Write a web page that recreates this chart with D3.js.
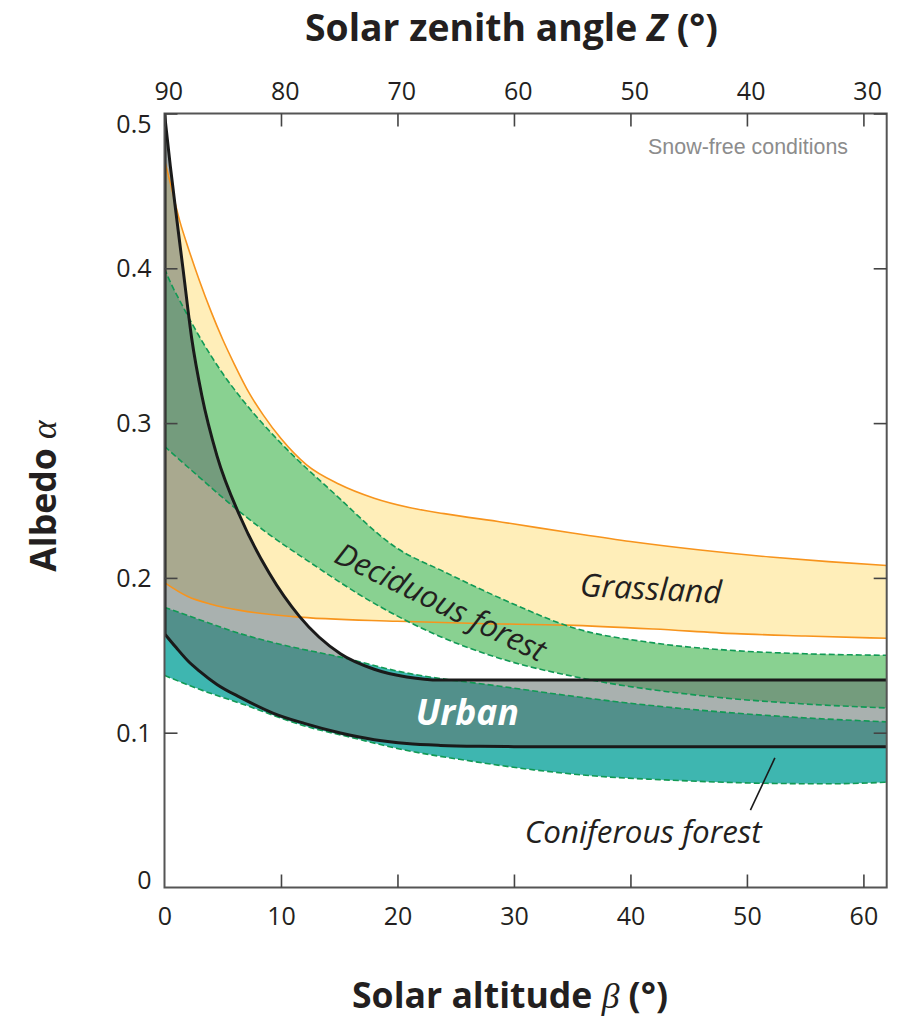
<!DOCTYPE html>
<html><head><meta charset="utf-8">
<script src="https://cdn.jsdelivr.net/npm/d3@7"></script>
<style>body{margin:0;background:#fff}</style>
</head><body>
<svg id="c" width="902" height="1020"></svg>
<script>
// ---- data: [solar altitude (deg), albedo] ----
const grasslandUpper = [[0,0.47],[0.5,0.455],[1.33,0.43],[2,0.414],[3,0.392],[4,0.372],[5,0.354],[6,0.338],[7.3,0.319],[8.5,0.305],[10,0.29],[12.2,0.273],[15,0.2605],[18,0.2515],[21,0.2455],[24,0.2415],[29,0.236],[35,0.229],[40,0.2235],[46,0.218],[52,0.2135],[57,0.2105],[62,0.208]];
const grasslandLower = [[0,0.197],[2,0.188],[4,0.183],[6.5,0.179],[11,0.175],[20,0.172],[27,0.1705],[34.5,0.1695],[42,0.167],[49,0.164],[55,0.1625],[62,0.161]];
const deciduousUpper = [[0,0.4],[0.33,0.394],[1.6,0.375],[3.3,0.352],[5,0.332],[6.7,0.315],[10,0.287],[14.5,0.255],[20,0.219],[24,0.204],[30,0.183],[35,0.168],[42,0.158],[49,0.153],[55,0.151],[62,0.15]];
const deciduousLower = [[0,0.285],[3,0.265],[5.6,0.248],[9,0.228],[12.2,0.2115],[17.9,0.184],[23.7,0.162],[28.8,0.148],[36,0.135],[46,0.124],[54,0.119],[62,0.116]];
const urbanUpper = [[0,0.5],[0.5,0.466],[1.05,0.432],[1.6,0.399],[2.33,0.355],[3.2,0.318],[4.5,0.279],[6.5,0.2395],[9,0.203],[11.6,0.175],[15.1,0.151],[18,0.141],[20.8,0.136],[23.7,0.134],[30,0.134],[62,0.134]];
const urbanLower = [[0,0.164],[1,0.155],[2,0.1465],[3,0.1398],[4.5,0.1312],[6.5,0.1228],[9.3,0.1127],[12,0.106],[15.1,0.0998],[18,0.0955],[20.8,0.093],[23.7,0.0918],[27,0.0912],[30,0.091],[62,0.091]];
const coniferousUpper = [[0,0.181],[3,0.173],[6.5,0.164],[10,0.157],[15,0.149],[20.5,0.139],[28.8,0.13],[40,0.119],[52,0.111],[62,0.107]];
const coniferousLower = [[0,0.137],[3,0.128],[6.5,0.119],[12.2,0.104],[16,0.097],[20.5,0.089],[26,0.082],[31.7,0.076],[37,0.072],[43,0.0695],[51.7,0.0673],[57,0.067],[62,0.068]];

const altitudeTicks = [0,10,20,30,40,50,60];
const zenithTickLabels = ["90","80","70","60","50","40","30"];
const albedoTicks = [0,0.1,0.2,0.3,0.4,0.5];
const albedoTickLabels = ["0","0.1","0.2","0.3","0.4","0.5"];

// label anchors in data units [altitude, albedo]
const labelGrassland = [41.7,0.1859];
const labelDeciduous = [23.3,0.178];
const labelUrban = [26.0,0.105];
const labelConiferous = [41.1,0.0287];
const leaderConiferous = [[50.3,0.05],[52.4,0.0837]];

// ---- drawing ----
const svg = d3.select("#c");
const FONT = "'Open Sans', 'Noto Sans', sans-serif";
const INK = "#231f20";
const x = d3.scaleLinear().domain([0,62]).range([164.5,886.7]);
const y = d3.scaleLinear().domain([0,0.5]).range([887.5,113.5]);
const [x0,x1] = x.range(), [y0,y1] = y.range();

svg.append("defs").append("clipPath").attr("id","clip")
  .append("rect").attr("x",x0).attr("y",y1).attr("width",x1-x0).attr("height",y0-y1);

const line = d3.line().x(d=>x(d[0])).y(d=>y(d[1])).curve(d3.curveMonotoneX);
function band(upper, lower){
  const lr = lower.slice().reverse();
  return line(upper) + line(lr).replace(/^M/,"L") + "Z";
}
const g = svg.append("g").attr("clip-path","url(#clip)");

g.append("path").attr("d",band(grasslandUpper,grasslandLower)).attr("fill","#ffeeb9");
g.append("path").attr("d",band(deciduousUpper,deciduousLower)).attr("fill","#89d191");
g.append("path").attr("d",band(coniferousUpper,coniferousLower)).attr("fill","#3eb6b0");
g.append("path").attr("d",band(urbanUpper,urbanLower)).attr("fill","rgb(99,113,110)").attr("fill-opacity",0.55);

// boundary lines
[grasslandUpper,grasslandLower].forEach(s=>g.append("path").attr("d",line(s))
  .attr("fill","none").attr("stroke","#f7941d").attr("stroke-width",1.6));
[deciduousUpper,deciduousLower,coniferousUpper,coniferousLower].forEach(s=>g.append("path").attr("d",line(s))
  .attr("fill","none").attr("stroke","#119a55").attr("stroke-width",1.6).attr("stroke-dasharray","6,3"));
[urbanUpper,urbanLower].forEach(s=>g.append("path").attr("d",line(s))
  .attr("fill","none").attr("stroke","#1a1a1a").attr("stroke-width",3));
g.append("line").attr("x1",x(0)).attr("x2",x(0))
  .attr("y1",y(urbanLower[0][1])).attr("y2",y(urbanUpper[0][1]))
  .attr("stroke","#1a1a1a").attr("stroke-width",4);

// frame
svg.append("rect").attr("x",x0).attr("y",y1).attr("width",x1-x0).attr("height",y0-y1)
  .attr("fill","none").attr("stroke","#555").attr("stroke-width",2);

// axes with inward ticks
const TL = 13;
const TFS = 25;
const axB = svg.append("g").attr("transform",`translate(0,${y0})`)
  .call(d3.axisBottom(x).tickValues(altitudeTicks).tickSizeInner(-TL).tickSizeOuter(0).tickPadding(20).tickFormat(d3.format("d")));
const axT = svg.append("g").attr("transform",`translate(0,${y1})`)
  .call(d3.axisTop(x).tickValues(altitudeTicks).tickSizeInner(-TL).tickSizeOuter(0).tickPadding(14)
    .tickFormat((d,i)=>zenithTickLabels[i]));
const axL = svg.append("g").attr("transform",`translate(${x0},0)`)
  .call(d3.axisLeft(y).tickValues(albedoTicks).tickSizeInner(-TL).tickSizeOuter(0).tickPadding(13)
    .tickFormat((d,i)=>albedoTickLabels[i]));
const axR = svg.append("g").attr("transform",`translate(${x1},0)`)
  .call(d3.axisRight(y).tickValues(albedoTicks.slice(1)).tickSizeInner(-TL).tickSizeOuter(0).tickFormat(""));
[axB,axT,axL,axR].forEach(a=>{
  a.select(".domain").remove();
  a.selectAll(".tick line").attr("stroke","#444").attr("stroke-width",1.6);
  a.selectAll("text").attr("font-family",FONT).attr("font-size",TFS).attr("fill",INK);
});
axL.selectAll(".tick text").attr("dy",(d)=> d===0.5 ? "0.75em" : (d===0 ? "0.05em" : "0.34em"));
axT.selectAll(".tick text").attr("dx","0.15em");
axB.selectAll(".tick").filter(d=>d===0).select("line").remove();
axL.selectAll(".tick").filter(d=>d===0).select("line").remove();

function fit(sel, w){
  const l = sel.node().getComputedTextLength();
  const fs = parseFloat(sel.attr("font-size"));
  sel.attr("font-size", fs*w/l);
  return sel;
}

// titles
const topTitle = svg.append("text").attr("x",511.5).attr("y",41).attr("text-anchor","middle")
  .attr("font-family",FONT).attr("font-weight","bold").attr("font-size",28).attr("fill",INK);
topTitle.append("tspan").text("Solar zenith angle ");
topTitle.append("tspan").attr("font-style","italic").text("Z");
topTitle.append("tspan").text(" (°)");
fit(topTitle, 413);

const botTitle = svg.append("text").attr("x",510).attr("y",1008).attr("text-anchor","middle")
  .attr("font-family",FONT).attr("font-weight","bold").attr("font-size",28).attr("fill",INK);
botTitle.append("tspan").text("Solar altitude ");
botTitle.append("tspan").attr("font-family","'Liberation Serif', serif").attr("font-style","italic").attr("font-weight","normal").text("β");
botTitle.append("tspan").text(" (°)");
fit(botTitle, 316);

const yTitle = svg.append("text").attr("transform","translate(56,496) rotate(-90)").attr("text-anchor","middle")
  .attr("font-family",FONT).attr("font-weight","bold").attr("font-size",botTitle.attr("font-size")).attr("fill",INK);
yTitle.append("tspan").text("Albedo ");
yTitle.append("tspan").attr("font-family","'Liberation Serif', serif").attr("font-style","italic").attr("font-weight","normal").text("α");

const snow = svg.append("text").attr("x",848).attr("y",154).attr("text-anchor","end")
  .attr("font-family","'Liberation Sans', Arial, sans-serif").attr("font-size",17).attr("fill","#8c8c8c")
  .text("Snow-free conditions");
fit(snow, 200);

// series labels
function label(pos, txt, w, rot, opts){
  const t = svg.append("text")
    .attr("transform",`translate(${x(pos[0])},${y(pos[1])}) rotate(${rot})`)
    .attr("text-anchor","middle").attr("font-family",FONT).attr("font-style","italic")
    .attr("font-size",26).attr("fill",opts.fill||INK).attr("font-weight",opts.weight||"normal").text(txt);
  fit(t, w);
}
label(labelGrassland,"Grassland",142,3.1,{});
label(labelDeciduous,"Deciduous forest",230,26,{});
label(labelUrban,"Urban",103,0,{fill:"#ffffff",weight:"bold"});
label(labelConiferous,"Coniferous forest",237,0,{});
svg.append("line")
  .attr("x1",x(leaderConiferous[0][0])).attr("y1",y(leaderConiferous[0][1]))
  .attr("x2",x(leaderConiferous[1][0])).attr("y2",y(leaderConiferous[1][1]))
  .attr("stroke","#1a1a1a").attr("stroke-width",1.6);
</script>
</body></html>
